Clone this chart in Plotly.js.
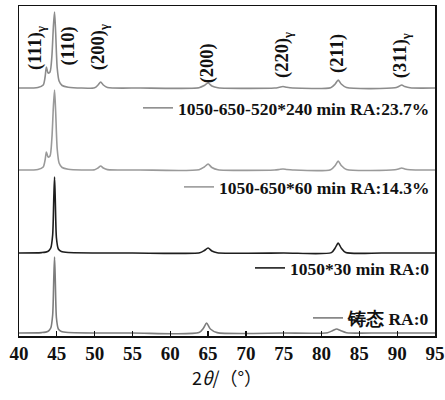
<!DOCTYPE html>
<html>
<head>
<meta charset="utf-8">
<script src="https://cdn.plot.ly/plotly-3.0.1.min.js"></script>
<style>html,body{margin:0;padding:0;background:#fff;}#chart{width:445px;height:400px;}</style>
</head>
<body>
<div id="chart"></div>
<script>
// Series names
const seriesNames = ["1050-650-520*240 min RA:23.7%", "1050-650*60 min RA:14.3%", "1050*30 min RA:0", "铸态 RA:0"];

// 2θ (deg) and relative intensity (stacked, baseline removed)
const x1 = [40, 42.5, 43.2, 43.45, 43.62, 43.85, 44.1, 44.35, 44.55, 44.7, 44.85, 45.05, 45.3, 45.7, 46.5, 50.0, 50.45, 50.8, 51.15, 51.7, 56, 63.8, 64.5, 65.0, 65.5, 66.3, 73.8, 74.4, 74.9, 75.4, 76.2, 81.2, 81.8, 82.2, 82.6, 83.3, 89.7, 90.2, 90.6, 91.0, 91.7, 95];
const y1 = [0, 0.5, 3, 11, 21, 15, 16, 32, 62, 76, 55, 20, 7, 2.5, 0.8, 0.3, 3, 6, 3, 0.5, 0, 0.3, 2.5, 5, 2, 0.3, 0, 0.7, 1.5, 0.7, 0, 0.3, 4, 8, 4, 0.5, 0.2, 1.5, 3, 1.5, 0.2, 0];

const x2 = [40, 42.5, 43.2, 43.45, 43.62, 43.85, 44.1, 44.35, 44.55, 44.7, 44.85, 45.05, 45.3, 45.7, 46.5, 50.0, 50.45, 50.8, 51.15, 51.7, 56, 63.8, 64.5, 65.0, 65.5, 66.3, 73.8, 74.4, 74.9, 75.4, 76.2, 81.2, 81.8, 82.2, 82.6, 83.3, 89.7, 90.2, 90.6, 91.0, 91.7, 95];
const y2 = [0, 0.5, 3, 10, 18, 13, 14, 32, 64, 80, 58, 21, 7, 2.5, 0.8, 0.3, 2, 4, 2, 0.4, 0, 0.3, 3, 6, 2.5, 0.3, 0, 0.5, 1, 0.5, 0, 0.3, 4.5, 9, 4.5, 0.5, 0.2, 1, 2, 1, 0.2, 0];

const x3 = [40, 43.0, 43.8, 44.2, 44.45, 44.6, 44.7, 44.8, 44.95, 45.2, 45.6, 46.5, 55, 63.9, 64.5, 65.0, 65.5, 66.2, 75, 81.3, 81.8, 82.2, 82.6, 83.2, 88, 95];
const y3 = [0, 0.4, 1.5, 5, 18, 55, 76, 52, 15, 4, 1.5, 0.5, 0, 0.3, 2.5, 5, 2, 0.3, 0, 0.4, 5, 10, 5, 0.5, 0, 0];

const x4 = [40, 43.0, 43.8, 44.2, 44.45, 44.6, 44.7, 44.8, 44.95, 45.2, 45.6, 46.5, 55, 63.8, 64.4, 64.8, 65.3, 66.2, 75, 80.8, 81.5, 82.0, 82.5, 83.3, 88, 95];
const y4 = [0, 0.4, 1.5, 5, 18, 55, 76, 52, 15, 4, 1.5, 0.5, 0, 0.4, 5, 10, 4, 0.4, 0, 0.3, 2.5, 4, 2.5, 0.3, 0, 0];

// Peak labels
const peakLabels = ["(111)<sub>γ</sub>", "(110)", "(200)<sub>γ</sub>", "(200)", "(220)<sub>γ</sub>", "(211)", "(311)<sub>γ</sub>"];
const peakLabelX = [42.25, 46.6, 50.6, 64.9, 74.9, 82.1, 90.6];

// Axis ticks
const xTicks = [40, 45, 50, 55, 60, 65, 70, 75, 80, 85, 90, 95];

// ---- layout-related constants (not data) ----
const offsets = [248, 166, 83, 3];
const colors = ["#8c8c8c", "#9a9a9a", "#1e1e1e", "#7d7d7d"];
const legendIds = ['legend', 'legend2', 'legend3', 'legend4'];
const legendPaperY = [0.691, 0.4515, 0.206, 0.0545];
const peakLabelBottom = [264, 269, 264, 251, 256, 261, 256];

const serif = "Liberation Serif, Times New Roman, serif";
const xs = [x1, x2, x3, x4];
const ys = [y1, y2, y3, y4];
const traces = xs.map((xx, i) => ({
  x: xx,
  y: ys[i].map(v => v + offsets[i]),
  type: 'scatter',
  mode: 'lines',
  name: '<b>' + seriesNames[i] + '</b>',
  legend: legendIds[i],
  line: {color: colors[i], width: 1.6, shape: 'spline', smoothing: 0.7},
  hoverinfo: 'skip',
  showlegend: true
}));

const annotations = [];
peakLabels.forEach((t, i) => {
  annotations.push({
    x: peakLabelX[i], y: peakLabelBottom[i], xref: 'x', yref: 'y',
    text: '<b>' + t + '</b>', showarrow: false, textangle: -90,
    xanchor: 'center', yanchor: 'bottom',
    font: {family: serif, size: 18.5, color: '#111'}
  });
});

const layout = {
  width: 445, height: 400,
  margin: {l: 19, r: 10, t: 6, b: 64},
  paper_bgcolor: '#fff', plot_bgcolor: '#fff',
  xaxis: {
    range: [40, 95], tickvals: xTicks, ticktext: xTicks.map(String),
    ticks: 'inside', ticklen: 5, tickwidth: 1.2, tickcolor: '#111',
    showline: true, linecolor: '#111', linewidth: 1.5, mirror: true,
    showgrid: false, zeroline: false,
    tickfont: {family: serif, size: 19, color: '#111', weight: 'bold'},
    title: {text: '2<i>θ</i>/（°）', font: {family: 'Noto Sans CJK SC', size: 18, color: '#111'}, standoff: 6}
  },
  yaxis: {
    range: [0, 330], showticklabels: false, ticks: '',
    showline: true, linecolor: '#111', linewidth: 1.5, mirror: true,
    showgrid: false, zeroline: false
  },
  annotations: annotations,
  showlegend: true
};
legendIds.forEach((id, i) => {
  layout[id] = {
    x: 1.0, y: legendPaperY[i], xanchor: 'right', yanchor: 'middle',
    xref: 'paper', yref: 'paper',
    bgcolor: 'rgba(0,0,0,0)', borderwidth: 0,
    itemwidth: 30,
    font: {family: serif, size: 17.5, color: '#111'}
  };
});

Plotly.newPlot('chart', traces, layout, {staticPlot: true, displayModeBar: false});
</script>
</body>
</html>
